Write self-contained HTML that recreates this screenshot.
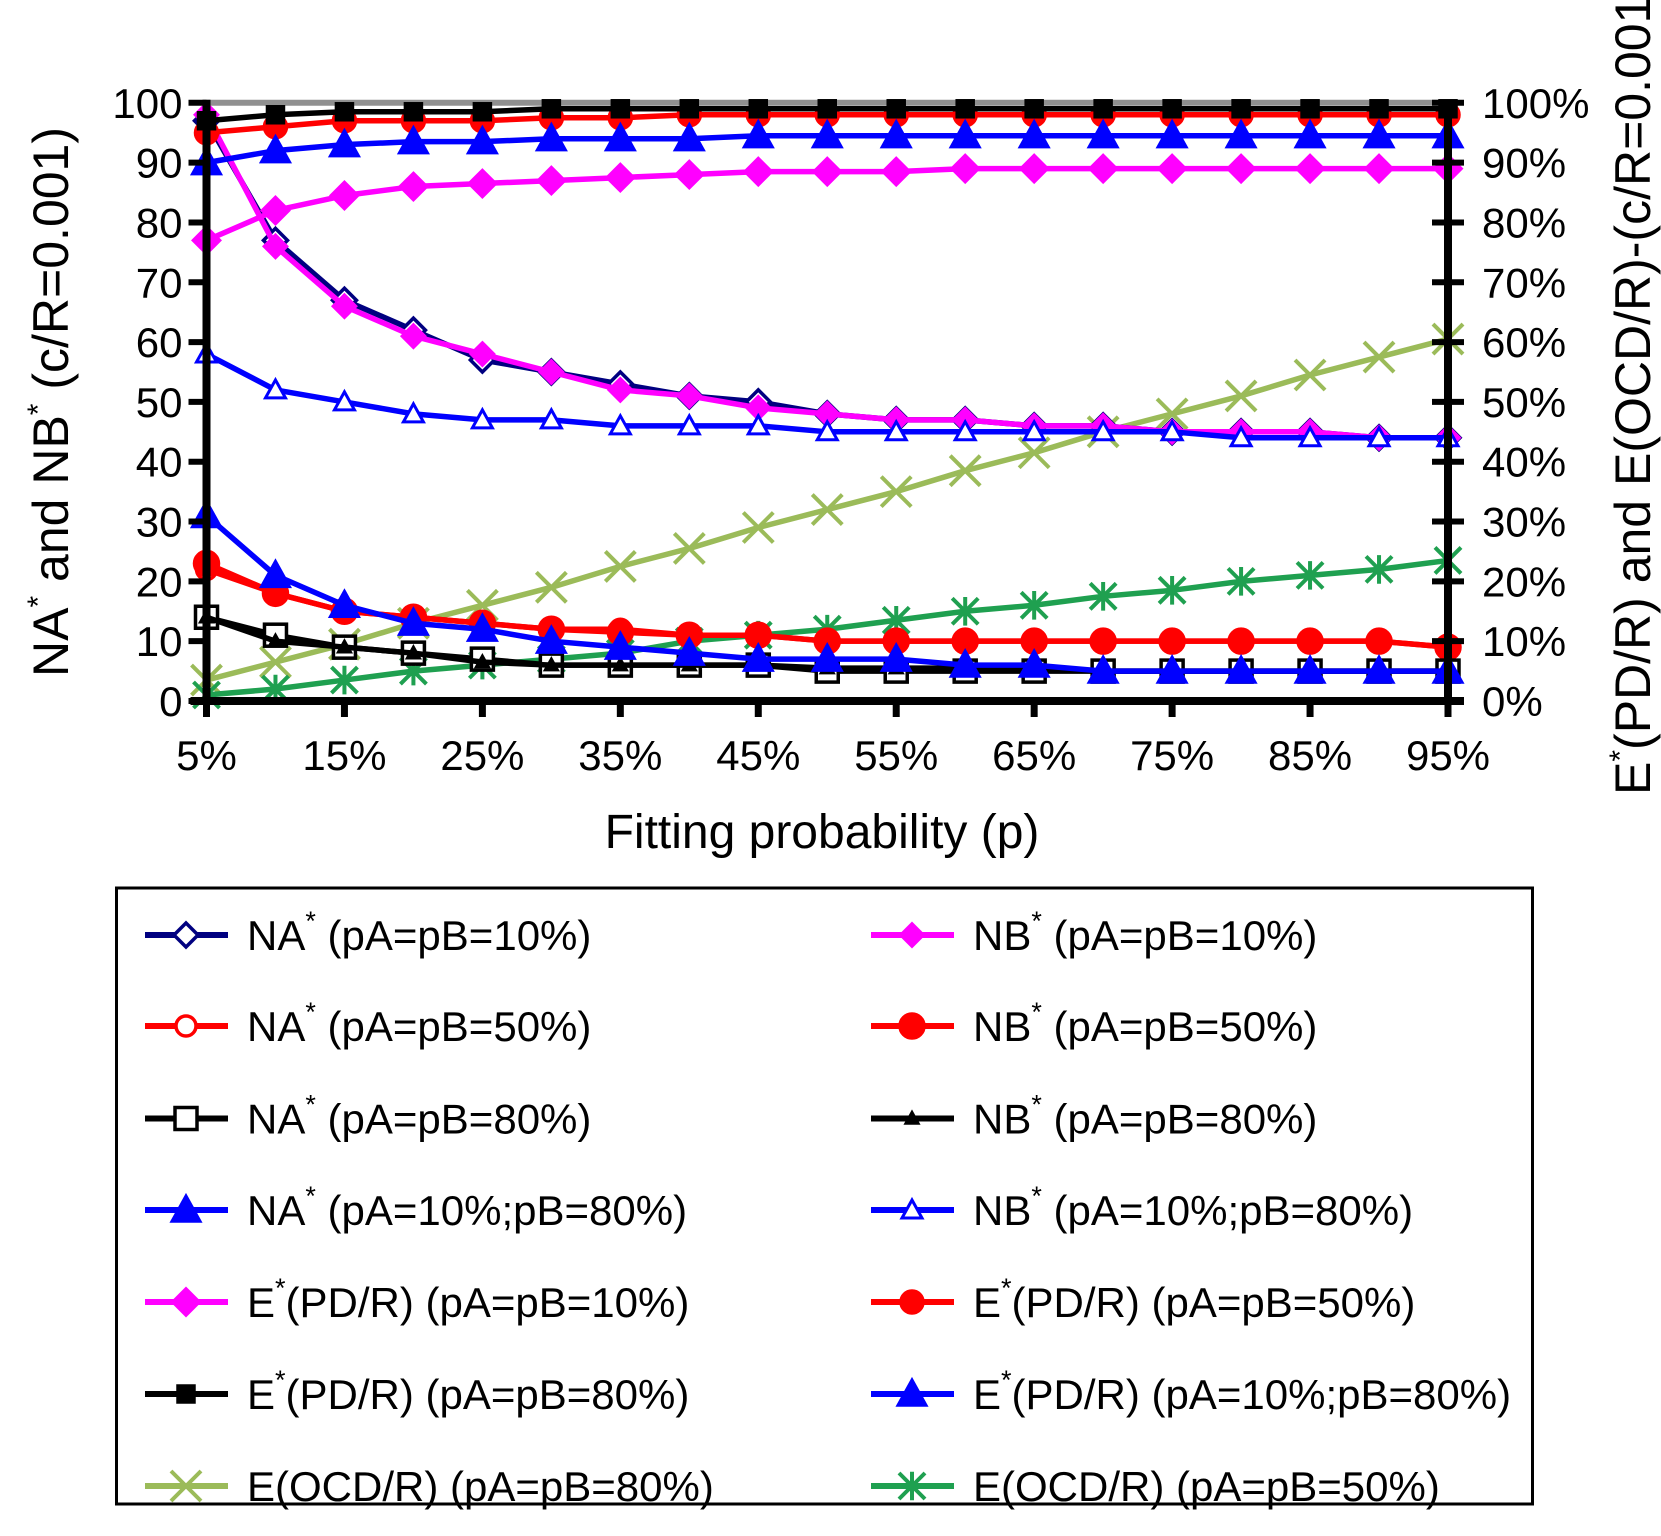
<!DOCTYPE html>
<html><head><meta charset="utf-8"><style>
html,body{margin:0;padding:0;background:#fff;}
svg{display:block;font-family:"Liberation Sans",sans-serif;}
</style></head><body>
<svg id="chart" width="1661" height="1536" viewBox="0 0 1661 1536" xmlns="http://www.w3.org/2000/svg">
<g id="plot"></g>
<g id="axes"></g>
<g id="legend"></g>
</svg>
<script>
const categories = [5,10,15,20,25,30,35,40,45,50,55,60,65,70,75,80,85,90,95];
const xTickLabels = ["5%","15%","25%","35%","45%","55%","65%","75%","85%","95%"];
const leftTickLabels = ["0","10","20","30","40","50","60","70","80","90","100"];
const rightTickLabels = ["0%","10%","20%","30%","40%","50%","60%","70%","80%","90%","100%"];
const naA10 = [97,77,67,62,57,55,53,51,50,48,47,47,46,46,45,45,45,44,44];
const nbA10 = [98,76,66,61,58,55,52,51,49,48,47,47,46,46,45,45,45,44,44];
const naA50 = [22,18,15,14,13,12,12,11,11,10,10,10,10,10,10,10,10,10,9];
const nbA50 = [23,18,15,14,13,12,11.5,11,11,10,10,10,10,10,10,10,10,10,9];
const naA80 = [14,11,9,8,7,6,6,6,6,5,5,5,5,5,5,5,5,5,5];
const nbA80 = [14,10,9,8,6.5,6,6,6,6,5.5,5.5,5.5,5.5,5,5,5,5,5,5];
const naMix = [31,21,16,13,12,10,9,8,7,7,7,6,6,5,5,5,5,5,5];
const nbMix = [58,52,50,48,47,47,46,46,46,45,45,45,45,45,45,44,44,44,44];
const ePd10 = [77,82,84.5,86,86.5,87,87.5,88,88.5,88.5,88.5,89,89,89,89,89,89,89,89];
const ePd50 = [95,96,97,97,97,97.5,97.5,98,98,98,98,98,98,98,98,98,98,98,98];
const ePd80 = [97,98,98.5,98.5,98.5,99,99,99,99,99,99,99,99,99,99,99,99,99,99];
const ePdMix = [90,92,93,93.5,93.5,94,94,94,94.5,94.5,94.5,94.5,94.5,94.5,94.5,94.5,94.5,94.5,94.5];
const eOcd80 = [3.5,6.5,9.5,13,16,19,22.5,25.5,29,32,35,38.5,41.5,45,48,51,54.5,57.5,60.5];
const eOcd50 = [1,2,3.5,5,6,7,8,10,11,12,13.5,15,16,17.5,18.5,20,21,22,23.5];

const NS="http://www.w3.org/2000/svg";
const L=206.5,R=1448,Y0=701,Y100=102.8;
const xS=v=>L+(v-5)/90*(R-L);
const yS=v=>Y0-v/100*(Y0-Y100);
function mk(t,a,p){const e=document.createElementNS(NS,t);for(const k in a)e.setAttribute(k,a[k]);p.appendChild(e);return e;}
const plot=document.getElementById('plot'),axes=document.getElementById('axes'),leg=document.getElementById('legend');

function marker(g,type,x,y,c,s){
  let e;
  if(type==='dH'||type==='dF'){e=mk('polygon',{points:`${x},${y-s} ${x+s},${y} ${x},${y+s} ${x-s},${y}`,fill:type==='dF'?c:'#fff',stroke:c,'stroke-width':3.5},g);}
  else if(type==='cH'||type==='cF'){e=mk('circle',{cx:x,cy:y,r:s,fill:type==='cF'?c:'#fff',stroke:c,'stroke-width':3.5},g);}
  else if(type==='sH'||type==='sF'){e=mk('rect',{x:x-s,y:y-s,width:2*s,height:2*s,fill:type==='sF'?c:'#fff',stroke:c,'stroke-width':3.5},g);}
  else if(type==='tF'||type==='tH'){e=mk('polygon',{points:`${x},${y-s} ${x+s},${y+s*0.8} ${x-s},${y+s*0.8}`,fill:type==='tF'?c:'#fff',stroke:c,'stroke-width':3},g);}
  else if(type==='x'){e=mk('path',{d:`M${x-s},${y-s}L${x+s},${y+s}M${x-s},${y+s}L${x+s},${y-s}`,stroke:c,'stroke-width':4,fill:'none'},g);}
  else if(type==='star'){e=mk('path',{d:`M${x-s},${y-s}L${x+s},${y+s}M${x-s},${y+s}L${x+s},${y-s}M${x},${y-s*1.1}L${x},${y+s*1.1}`,stroke:c,'stroke-width':4,fill:'none'},g);}
  
  
}

const series=[
 {n:'e-ocd-80',d:eOcd80,c:'#9bbb59',m:'x',s:15,lab:'E(OCD/R) (pA=pB=80%)'},
 {n:'e-ocd-50',d:eOcd50,c:'#1fa050',m:'star',s:13,lab:'E(OCD/R) (pA=pB=50%)'},
 {n:'na-10',d:naA10,c:'#000080',m:'dH',s:12,lab:'NA|* (pA=pB=10%)'},
 {n:'nb-10',d:nbA10,c:'#ff00ff',m:'dF',s:11,lab:'NB|* (pA=pB=10%)'},
 {n:'na-50',d:naA50,c:'#ff0000',m:'cH',s:10,lab:'NA|* (pA=pB=50%)'},
 {n:'nb-50',d:nbA50,c:'#ff0000',m:'cF',s:12,lab:'NB|* (pA=pB=50%)'},
 {n:'na-80',d:naA80,c:'#000000',m:'sH',s:11,lab:'NA|* (pA=pB=80%)'},
 {n:'nb-80',d:nbA80,c:'#000000',m:'tF',s:6,lab:'NB|* (pA=pB=80%)'},
 {n:'na-mix',d:naMix,c:'#0000ff',m:'tF',s:14,lab:'NA|* (pA=10%;pB=80%)'},
 {n:'nb-mix',d:nbMix,c:'#0000ff',m:'tH',s:10,lab:'NB|* (pA=10%;pB=80%)'},
 {n:'e-pd-10',d:ePd10,c:'#ff00ff',m:'dF',s:13,lab:'E|*(PD/R) (pA=pB=10%)'},
 {n:'e-pd-50',d:ePd50,c:'#ff0000',m:'cF',s:11,lab:'E|*(PD/R) (pA=pB=50%)'},
 {n:'e-pd-80',d:ePd80,c:'#000000',m:'sF',s:8,lab:'E|*(PD/R) (pA=pB=80%)'},
 {n:'e-pd-mix',d:ePdMix,c:'#0000ff',m:'tF',s:14,lab:'E|*(PD/R) (pA=10%;pB=80%)'}
];
let gl=mk('line',{x1:L,y1:Y100,x2:R,y2:Y100,stroke:'#909090','stroke-width':6},plot);


series.forEach(s=>{
  const g=mk('g',{},plot);
  
  
  const pts=s.d.map((v,i)=>xS(categories[i])+','+yS(v)).join(' ');
  const pl=mk('polyline',{points:pts,fill:'none',stroke:s.c,'stroke-width':5.5,'stroke-linejoin':'round'},g);
  
  
  s.d.forEach((v,i)=>marker(g,s.m,xS(categories[i]),yS(v),s.c,s.s));
});
function ln(x1,y1,x2,y2,w,name){const e=mk('line',{x1,y1,x2,y2,stroke:'#000','stroke-width':w},axes);}
ln(L,Y100-3,L,Y0+3,8,'left-axis');
ln(R,Y100-3,R,Y0+3,8,'right-axis');
ln(L-16,Y0,R+16,Y0,8,'x-axis');
function tx(x,y,t,sz,anchor,name,extra){const e=mk('text',Object.assign({x,y,'font-size':sz,'text-anchor':anchor,fill:'#000'},extra||{}),axes);e.textContent=t;return e;}
leftTickLabels.forEach((t,i)=>{const y=yS(i*10);ln(L-18,y,L,y,6,'left-tick');tx(L-24,y+15,t,42,'end','left-tick-label');});
rightTickLabels.forEach((t,i)=>{const y=yS(i*10);ln(R-16,y,R+16,y,6,'right-tick');tx(R+34,y+15,t,42,'start','right-tick-label');});
xTickLabels.forEach((t,i)=>{const v=5+i*10,x=xS(v);ln(x,Y0,x,Y0+16,7,'x-tick');tx(x,Y0+69,t,42,'middle','x-axis-tick-label');});
tx(822,848,'Fitting probability (p)',48,'middle','x-axis-title');
const ly=tx(0,0,'',50,'middle','y-axis-left-title',{transform:'translate(68,402) rotate(-90)'});
ly.innerHTML='NA<tspan font-size="30" dy="-20">*</tspan><tspan dy="20"> and NB</tspan><tspan font-size="30" dy="-20">*</tspan><tspan dy="20"> (c/R=0.001)</tspan>';
const ry=tx(0,0,'',50,'start','y-axis-right-title',{transform:'translate(1650,795) rotate(-90)'});
ry.innerHTML='E<tspan font-size="30" dy="-20">*</tspan><tspan dy="20">(PD/R) and E(OCD/R)-(c/R=0.001)</tspan>';
let box=mk('rect',{x:116.5,y:888,width:1416,height:616,fill:'none',stroke:'#000','stroke-width':3},leg);


const order=[2,3,4,5,6,7,8,9,10,11,12,13,0,1];
const rows=[935,1026,1118.5,1210,1302,1394,1486];
order.forEach((si,k)=>{
  const s=series[si],col=k%2,row=Math.floor(k/2);
  const y=rows[row],x0=col?871:145;
  const g=mk('g',{},leg);
  
  
  const l=mk('line',{x1:x0,y1:y,x2:x0+83,y2:y,stroke:s.c,'stroke-width':6},g);
  
  
  marker(g,s.m,x0+41,y,s.c,s.s);
  const parts=s.lab.split('|');
  const t=mk('text',{x:x0+102,y:y+15,'font-size':42,fill:'#000'},g);
  
  
  if(parts.length===1){t.textContent=s.lab;}
  else{t.innerHTML=parts[0]+'<tspan font-size="27" dy="-20">*</tspan><tspan dy="20">'+parts[1].slice(1)+'</tspan>';}
});
</script>
</body></html>
